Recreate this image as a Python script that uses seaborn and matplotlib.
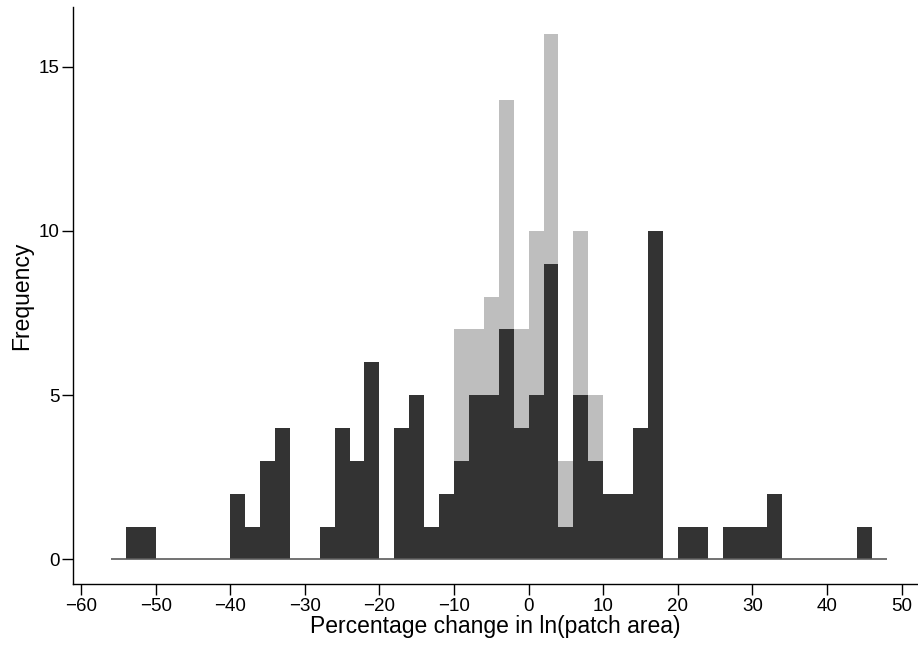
import numpy as np
import pandas as pd
import matplotlib
matplotlib.use("Agg")
import matplotlib.pyplot as plt
import seaborn as sns

# Bin edges: width 2 from -56 to 48
bin_start = -56
bin_width = 2
n_bins = 52

# Dark series counts per bin (from -56 to 48)
dark_counts = [0, 1, 1, 0, 0, 0, 0, 0, 2, 1, 3, 4, 0, 0, 1, 4, 3, 6, 0, 4,
               5, 1, 2, 3, 5, 5, 7, 4, 5, 9, 1, 5, 3, 2, 2, 4, 10, 0, 1, 1,
               0, 1, 1, 1, 2, 0, 0, 0, 0, 0, 1, 0]

# Light series counts (visible part, bins -10 .. 10)
light_bin_lefts = [-10, -8, -6, -4, -2, 0, 2, 4, 6, 8]
light_counts = [7, 7, 8, 14, 7, 10, 16, 3, 10, 5]

x_ticks = [-60, -50, -40, -30, -20, -10, 0, 10, 20, 30, 40, 50]
y_ticks = [0, 5, 10, 15]
x_label = "Percentage change in ln(patch area)"
y_label = "Frequency"

edges = [float(bin_start + bin_width * i) for i in range(n_bins + 1)]
centers = [e + bin_width / 2 for e in edges[:-1]]
dark_df = pd.DataFrame({"x": centers, "w": [float(v) for v in dark_counts]})
light_df = pd.DataFrame({"x": [l + bin_width / 2 for l in light_bin_lefts],
                         "w": [float(v) for v in light_counts]})

sns.set_style("white")
plt.rcParams["font.family"] = ["Liberation Sans", "DejaVu Sans"]
plt.rcParams["text.color"] = "black"
plt.rcParams["axes.labelcolor"] = "black"
plt.rcParams["xtick.color"] = "black"
plt.rcParams["ytick.color"] = "black"

fig = plt.figure(figsize=(9.18, 6.46), dpi=100)
ax = fig.add_axes([0.0798, 0.0955, 0.9202, 0.8932])

sns.histplot(data=light_df, x="x", weights="w", bins=edges, color="#bebebe",
             alpha=1, linewidth=0, ax=ax)
sns.histplot(data=dark_df, x="x", weights="w", bins=edges, color="#333333",
             alpha=1, linewidth=0, ax=ax)
ax.plot([edges[0], edges[-1]], [0, 0], color="#5a5a5a", lw=1.2, zorder=3,
        solid_capstyle="butt")

ax.set_xlim(-61.04, 52.2)
ax.set_ylim(-0.76, 16.81)
ax.set_xticks(x_ticks)
ax.set_yticks(y_ticks)
ax.set_xticklabels([str(t).replace("-", "\u2212") for t in x_ticks])
ax.set_yticklabels([str(t) for t in y_ticks])

for s in ["top", "right"]:
    ax.spines[s].set_visible(False)
for s in ["left", "bottom"]:
    ax.spines[s].set_color("black")
    ax.spines[s].set_linewidth(1.0)

ax.tick_params(axis="both", which="major", direction="out", length=8, width=1.0,
               color="black", labelcolor="black", labelsize=13.5,
               bottom=True, left=True, pad=2)
ax.set_xlabel(x_label, fontsize=16.5, labelpad=0)
ax.set_ylabel(y_label, fontsize=16.5, labelpad=4)

fig.savefig("out.png", dpi=100)
